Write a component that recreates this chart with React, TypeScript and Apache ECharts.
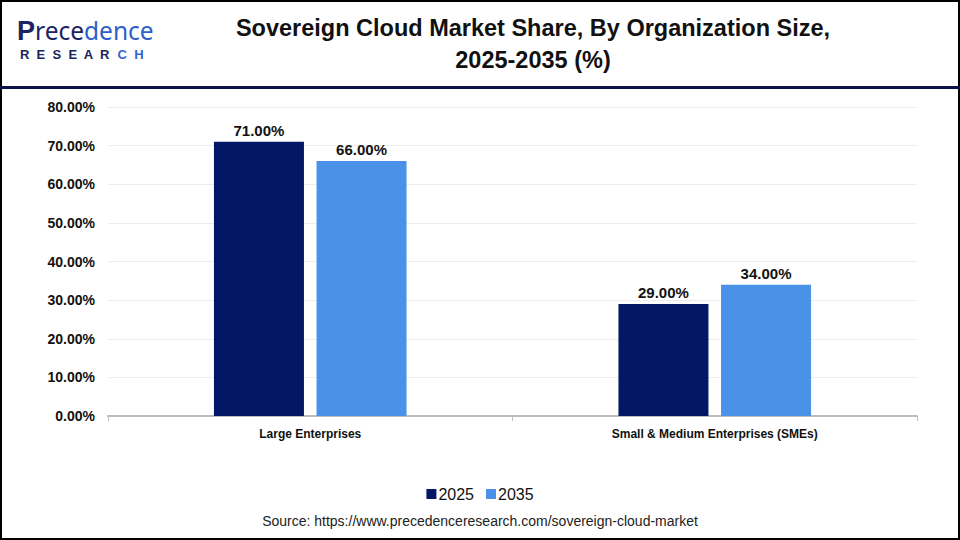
import React, { useEffect, useRef } from "react";
import * as echarts from "echarts";

const categories = ["Large Enterprises", "Small & Medium Enterprises (SMEs)"];
const seriesNames = ["2025", "2035"];
const values2025 = [71, 29];
const values2035 = [66, 34];
const yTicks = { min: 0, max: 80, interval: 10 };

const NAVY = "#021766";
const BLUE = "#4a91e8";

export default function App() {
  const ref = useRef<HTMLDivElement>(null);

  useEffect(() => {
    if (!ref.current) return;
    const chart = echarts.init(ref.current, null, { renderer: "svg" });
    const pct = (v: number) => `${v.toFixed(2)}%`;
    const barLabel = {
      show: true,
      position: "top",
      distance: 4,
      color: "#111",
      fontFamily: "Liberation Sans, Arial, sans-serif",
      fontWeight: "bold",
      fontSize: 15,
      formatter: (p: any) => pct(p.value),
    };
    chart.setOption({
      animation: false,
      backgroundColor: "#ffffff",
      title: {
        text: "Sovereign Cloud Market Share, By Organization Size,\n2025-2035 (%)",
        left: 528,
        top: 7,
        textAlign: "center",
        textStyle: {
          fontFamily: "Liberation Sans, sans-serif",
          fontWeight: "bold",
          fontSize: 23.5,
          lineHeight: 32,
          color: "#111",
        },
      },
      grid: { left: 108, right: 43, top: 107, bottom: 124 },
      legend: {
        data: seriesNames,
        left: "center",
        top: 481,
        itemWidth: 10,
        itemHeight: 10,
        itemGap: 12,
        icon: "rect",
        textStyle: {
          fontFamily: "Liberation Sans, sans-serif",
          fontSize: 16,
          color: "#111",
          padding: [0, 0, 0, -3],
        },
      },
      xAxis: {
        type: "category",
        data: categories,
        axisLine: { lineStyle: { color: "#bdbdbd", width: 2 } },
        axisTick: { show: true, length: 5, lineStyle: { color: "#bdbdbd" } },
        axisLabel: {
          margin: 12,
          color: "#111",
          fontFamily: "Liberation Sans, sans-serif",
          fontWeight: "bold",
          fontSize: 12,
        },
      },
      yAxis: {
        type: "value",
        min: yTicks.min,
        max: yTicks.max,
        interval: yTicks.interval,
        axisLine: { show: false },
        axisTick: { show: false },
        splitLine: { lineStyle: { color: "#ececec", width: 1 } },
        axisLabel: {
          margin: 13,
          color: "#111",
          fontFamily: "Liberation Sans, Arial, sans-serif",
          fontWeight: "bold",
          fontSize: 14,
          formatter: (v: number) => pct(v),
        },
      },
      series: [
        {
          name: seriesNames[0],
          type: "bar",
          data: values2025,
          barWidth: 90,
          barGap: "14%",
          itemStyle: { color: NAVY },
          label: barLabel,
        },
        {
          name: seriesNames[1],
          type: "bar",
          data: values2035,
          barWidth: 90,
          barGap: "14%",
          itemStyle: { color: BLUE },
          label: barLabel,
        },
      ],
      graphic: [
        {
          type: "rect",
          shape: { x: 1, y: 1, width: 958, height: 538 },
          style: { fill: "none", stroke: "#000", lineWidth: 2 },
          z: 100,
        },
        {
          type: "rect",
          shape: { x: 0, y: 86, width: 960, height: 3 },
          style: { fill: "#0b1445" },
          z: 100,
        },
        {
          type: "text",
          x: 17,
          y: 17,
          style: {
            text: "{a|P}{b|rece}{c|dence}",
            rich: {
              a: { fontFamily: "Liberation Sans, sans-serif", fontWeight: "bold", fontSize: 27, fill: "#1b2461" },
              b: { fontFamily: "Noto Sans, sans-serif", fontSize: 24.5, fill: "#1b2461" },
              c: { fontFamily: "Noto Sans, sans-serif", fontSize: 24.5, fill: "#2d5fc8" },
            },
          },
        },
        {
          type: "text",
          x: 20,
          y: 48,
          style: {
            text: "{a|R  E  S  E  A  R  }{b|C  H}",
            rich: {
              a: { fontFamily: "Liberation Sans, sans-serif", fontWeight: "bold", fontSize: 13, fill: "#1b2461" },
              b: { fontFamily: "Liberation Sans, sans-serif", fontWeight: "bold", fontSize: 13, fill: "#2f66d6" },
            },
          },
        },
        {
          type: "text",
          x: 480,
          y: 514,
          style: {
            text: "Source: https://www.precedenceresearch.com/sovereign-cloud-market",
            align: "center",
            fontFamily: "Liberation Sans, sans-serif",
            fontSize: 14,
            fill: "#222",
          },
        },
      ],
    });
    return () => chart.dispose();
  }, []);

  return (
    <div
      ref={ref}
      style={{ position: "fixed", left: 0, top: 0, width: 960, height: 540 }}
    />
  );
}
